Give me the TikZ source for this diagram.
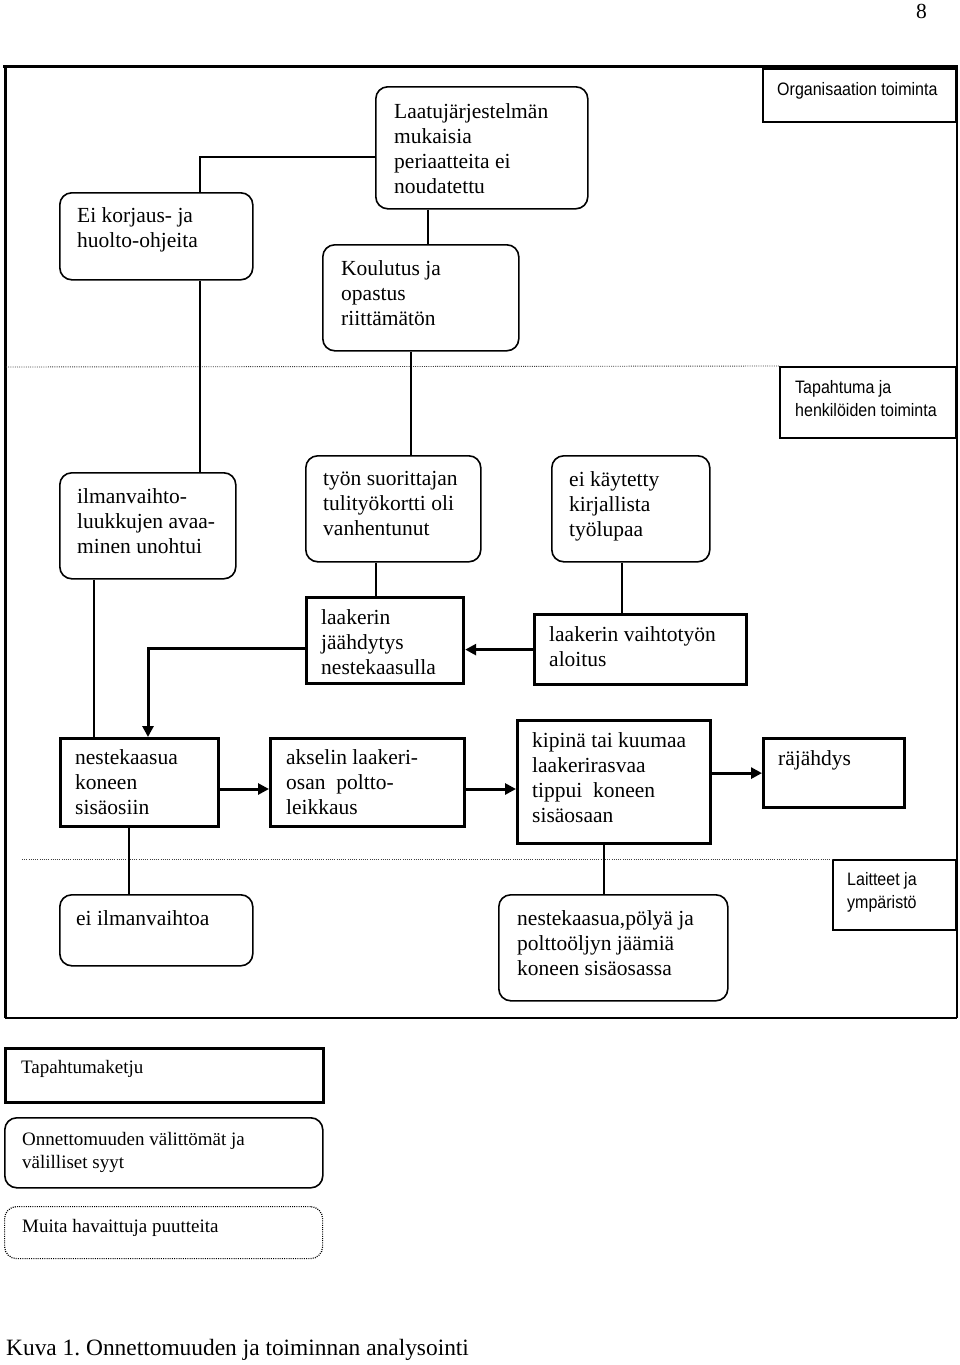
\documentclass[tikz,border=0pt]{standalone}
\usepackage{fontspec}
\setmainfont{Liberation Serif}
\newfontfamily\narrowsans[FakeStretch=0.89]{Liberation Sans}
\usetikzlibrary{arrows.meta,calc}
\begin{document}
\begin{tikzpicture}[x=1pt,y=-1pt,
  rbox/.style={draw, line width=1.6pt, rounded corners=12pt, anchor=north west, inner sep=0},
  sbox/.style={draw, line width=3.2pt, anchor=north west, inner sep=0},
  lbox/.style={draw, line width=1.6pt, anchor=north west, inner sep=0},
  txt/.style={inner sep=0, anchor=base west, align=left, font=\fontsize{21.5}{25}\selectfont},
  stxt/.style={inner sep=0, anchor=base west, align=left, font=\narrowsans\fontsize{18}{23}\selectfont},
  ltxt/.style={inner sep=0, anchor=base west, align=left, font=\fontsize{19}{23}\selectfont},
  conn/.style={line width=1.4pt},
  heavy/.style={line width=3pt},
  arr/.style={-{Triangle[length=11pt,width=11pt]}},
  dots/.style={line width=0.9pt, dash pattern=on 1pt off 1.2pt, black!75}
]
\useasboundingbox (0,0) rectangle (960,1365);

% page number
\node[inner sep=0, anchor=base west, font=\fontsize{21.5}{25}\selectfont] (pnum) at (916,19) {8};

% outer frame
\draw[line width=3pt] (3,66) -- (958,66);
\draw[line width=3pt] (5,66) -- (5,1018);
\draw[line width=2pt] (957,66) -- (957,1018);
\draw[line width=2pt] (5,1018) -- (957,1018);

% boxes
\node[rbox, minimum width=212pt, minimum height=122pt] (laatu) at (375,86) {};
\node[rbox, minimum width=193pt, minimum height=87pt] (eikor) at (59,192) {};
\node[rbox, minimum width=196pt, minimum height=106pt] (koul) at (322,244) {};
\node[lbox, minimum width=193pt, minimum height=53pt] (org) at (762,68) {};
\node[lbox, minimum width=176pt, minimum height=71pt] (tap) at (779,366) {};
\node[rbox, minimum width=176pt, minimum height=106pt] (ilm) at (59,472) {};
\node[rbox, minimum width=175pt, minimum height=106pt] (tyon) at (305,455) {};
\node[rbox, minimum width=158pt, minimum height=106pt] (eikay) at (551,455) {};
\node[sbox, minimum width=157pt, minimum height=86pt] (jaah) at (305,596) {};
\node[sbox, minimum width=212pt, minimum height=70pt] (vaihto) at (533,613) {};
\node[sbox, minimum width=158pt, minimum height=88pt] (neste) at (59,737) {};
\node[sbox, minimum width=194pt, minimum height=88pt] (aks) at (269,737) {};
\node[sbox, minimum width=193pt, minimum height=123pt] (kip) at (516,719) {};
\node[sbox, minimum width=141pt, minimum height=69pt] (raj) at (762,737) {};
\node[rbox, minimum width=193pt, minimum height=71pt] (eiilm) at (59,894) {};
\node[rbox, minimum width=229pt, minimum height=106pt] (nkp) at (498,894) {};
\node[lbox, minimum width=123pt, minimum height=70pt] (lait) at (832,859) {};
\node[sbox, minimum width=318pt, minimum height=54pt] (leg1) at (4,1047) {};
\node[rbox, minimum width=318pt, minimum height=70pt] (leg2) at (4,1117) {};
\node[rbox, dots, black, line width=1.2pt, minimum width=318pt, minimum height=52pt] (leg3) at (4,1206) {};

% texts (anchor = baseline of the last line)
\node[txt] (tlaatu) at (394,193) {Laatujärjestelmän\\mukaisia\\periaatteita ei\\noudatettu};
\node[txt] (teikor) at (77,247) {Ei korjaus- ja\\huolto-ohjeita};
\node[txt] (tkoul) at (341,325) {Koulutus ja\\opastus\\riittämätön};
\node[stxt] (torg) at (777,95) {Organisaation toiminta};
\node[stxt] (ttap) at (795,416) {Tapahtuma ja\\henkilöiden toiminta};
\node[txt] (tilm) at (77,553) {ilmanvaihto-\\luukkujen avaa-\\minen unohtui};
\node[txt] (ttyon) at (323,535) {työn suorittajan\\tulityökortti oli\\vanhentunut};
\node[txt] (teikay) at (569,536) {ei käytetty\\kirjallista\\työlupaa};
\node[txt] (tjaah) at (321,674) {laakerin\\jäähdytys\\nestekaasulla};
\node[txt] (tvaihto) at (549,666) {laakerin vaihtotyön\\aloitus};
\node[txt] (tneste) at (75,814) {nestekaasua\\koneen\\sisäosiin};
\node[txt] (taks) at (286,814) {akselin laakeri-\\osan\ \ poltto-\\leikkaus};
\node[txt] (tkip) at (532,822) {kipinä tai kuumaa\\laakerirasvaa\\tippui\ \ koneen\\sisäosaan};
\node[txt] (traj) at (778,765) {räjähdys};
\node[txt] (teiilm) at (76,925) {ei ilmanvaihtoa};
\node[txt] (tnkp) at (517,975) {nestekaasua,pölyä ja\\polttoöljyn jäämiä\\koneen sisäosassa};
\node[stxt] (tlait) at (847,908) {Laitteet ja\\ympäristö};
\node[ltxt] (tleg1) at (21,1073) {Tapahtumaketju};
\node[ltxt] (tleg2) at (22,1168) {Onnettomuuden välittömät ja\\välilliset syyt};
\node[ltxt] (tleg3) at (22,1232) {Muita havaittuja puutteita};
\node[inner sep=0, anchor=base west, font=\fontsize{23.4}{28}\selectfont] (cap) at (6,1355) {\frenchspacing Kuva 1. Onnettomuuden ja toiminnan analysointi};

% dotted separators
\draw[dots] (6,367) -- (tap.north west);
\draw[dots] (22,859) -- (lait.north west);

% helper coordinates
\coordinate (c1) at (200,157);
\coordinate (c2) at (428,0);
\coordinate (c3) at (411,0);
\coordinate (c4) at (94,0);
\coordinate (c5) at (376,0);
\coordinate (c6) at (622,0);
\coordinate (c7) at (148,648);
\coordinate (c8) at (0,789);
\coordinate (c9) at (129,0);
\coordinate (c10) at (604,0);

% thin connectors
\draw[conn] (laatu.west |- c1) -| (eikor.north -| c1);
\draw[conn] (laatu.south -| c2) -- (koul.north -| c2);
\draw[conn] (eikor.south -| c1) -- (ilm.north -| c1);
\draw[conn] (koul.south -| c3) -- (tyon.north -| c3);
\draw[conn] (ilm.south -| c4) -- (neste.north -| c4);
\draw[conn] (tyon.south -| c5) -- (jaah.north -| c5);
\draw[conn] (eikay.south -| c6) -- (vaihto.north -| c6);
\draw[conn] (neste.south -| c9) -- (eiilm.north -| c9);
\draw[conn] (kip.south -| c10) -- (nkp.north -| c10);

% heavy arrows (event chain)
\draw[heavy, arr] (vaihto.west) -- (jaah.east |- vaihto.west);
\draw[heavy, arr] (jaah.west |- c7) -| (neste.north -| c7);
\draw[heavy, arr] (neste.east |- c8) -- (aks.west |- c8);
\draw[heavy, arr] (aks.east |- c8) -- (kip.west |- c8);
\draw[heavy, arr] (kip.east |- raj.west) -- (raj.west);
\end{tikzpicture}
\end{document}
